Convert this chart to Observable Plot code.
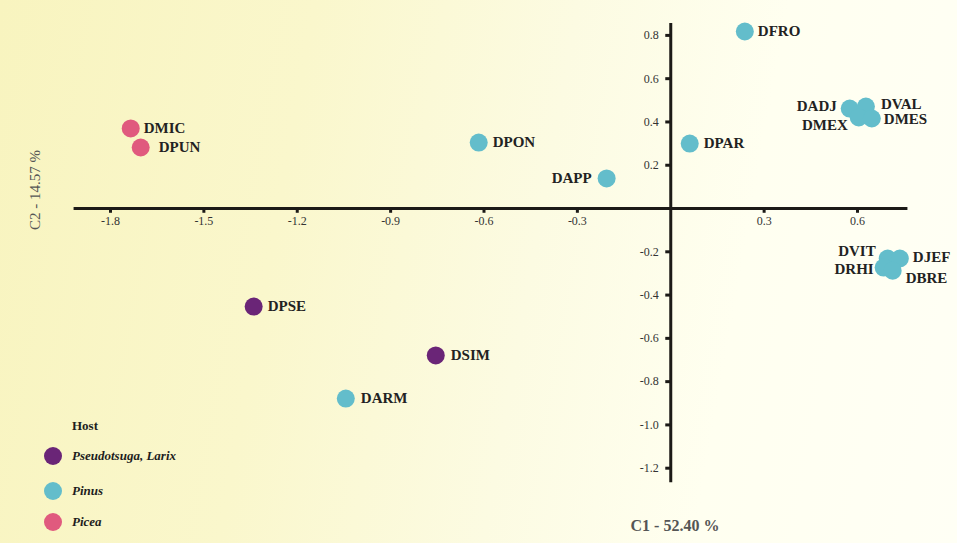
<!DOCTYPE html>
<html>
<head>
<meta charset="utf-8">
<script src="https://cdn.jsdelivr.net/npm/d3@7"></script>
<script src="https://cdn.jsdelivr.net/npm/@observablehq/plot@0.6"></script>
<style>
  html, body { margin: 0; padding: 0; }
  #wrap {
    position: relative; width: 957px; height: 543px; overflow: hidden;
    background: linear-gradient(100deg, #f8f4bf 0%, #faf7cc 30%, #fcfbe2 55%, #fffff0 75%, #fffff5 100%);
    font-family: "Liberation Serif", "Times New Roman", serif;
  }
  #chart { position: absolute; left: 0; top: 0; }
  .ttl { position: absolute; color: #555; white-space: nowrap; }
  #c1 { left: 675px; top: 526px; transform: translate(-50%, -50%); font-size: 16px; font-weight: bold; }
  #c2 { left: 35px; top: 190px; transform: translate(-50%, -50%) rotate(-90deg); font-size: 15px; }
  #legend { position: absolute; left: 0; top: 0; color: #1e1e1e; }
  #legend .head { position: absolute; left: 72px; top: 426px; transform: translateY(-50%); font-weight: bold; font-size: 13px; }
  #legend .item { position: absolute; left: 44px; transform: translateY(-50%); display: flex; align-items: center; white-space: nowrap; }
  #legend .sw { width: 18px; height: 18px; border-radius: 50%; margin-right: 10px; }
  #legend .lab { font-weight: bold; font-style: italic; font-size: 13px; }
</style>
</head>
<body>
<div id="wrap">
  <div id="chart"></div>
  <div class="ttl" id="c2">C2 - 14.57 %</div>
  <div class="ttl" id="c1">C1 - 52.40 %</div>
  <div id="legend"></div>
</div>
<script>
// ---- data ----
const codes = ["DFRO","DADJ","DVAL","DMEX","DMES","DVIT","DJEF","DRHI","DBRE","DMIC","DPUN","DPON","DPAR","DAPP","DPSE","DSIM","DARM"];
const c1 = [0.238, 0.575, 0.627, 0.604, 0.646, 0.697, 0.736, 0.684, 0.713, -1.735, -1.703, -0.617, 0.061, -0.206, -1.340, -0.755, -1.044];
const c2 = [0.818, 0.462, 0.471, 0.421, 0.416, -0.231, -0.231, -0.273, -0.287, 0.370, 0.282, 0.305, 0.300, 0.139, -0.453, -0.679, -0.878];
const hostOf = ["Pinus","Pinus","Pinus","Pinus","Pinus","Pinus","Pinus","Pinus","Pinus",
                "Picea","Picea","Pinus","Pinus","Pinus",
                "Pseudotsuga, Larix","Pseudotsuga, Larix","Pinus"];
const hosts = ["Pseudotsuga, Larix", "Pinus", "Picea"];
const xTicks = [-1.8, -1.5, -1.2, -0.9, -0.6, -0.3, 0.3, 0.6];
const yTicks = [0.8, 0.6, 0.4, 0.2, -0.2, -0.4, -0.6, -0.8, -1.0, -1.2];
const xAxisExtent = [-1.917, 0.762];
const yAxisExtent = [-1.267, 0.855];

// ---- styles ----
const hostColors = ["#6a2577", "#63bdcb", "#e05a7e"];
const ink = "#1c1a17";
const serif = "'Liberation Serif', 'Times New Roman', serif";
// label placement: [dx, dy, anchor]
const place = {
  DFRO: [13, 0, "start"], DADJ: [-13, -2, "end"], DVAL: [15, -2, "start"], DMEX: [-11, 8, "end"],
  DMES: [12, 1, "start"], DVIT: [-12, -7, "end"], DJEF: [13, -1, "start"], DRHI: [-10, 2, "end"],
  DBRE: [13, 8, "start"], DMIC: [13, 0, "start"], DPUN: [18, 0, "start"], DPON: [14, 0, "start"],
  DPAR: [14, 0, "start"], DAPP: [-15, 0, "end"], DPSE: [14, 0, "start"], DSIM: [15, 0, "start"],
  DARM: [15, 0, "start"]
};

const data = codes.map((code, i) => ({code, c1: c1[i], c2: c2[i], host: hostOf[i]}));

const labelMarks = data.map(d => {
  const [dx, dy, anchor] = place[d.code];
  return Plot.text([d], {x: "c1", y: "c2", text: "code", dx, dy, textAnchor: anchor,
    fontWeight: "bold", fontSize: 15, fontFamily: serif, fill: "#222"});
});

const chart = Plot.plot({
  width: 957,
  height: 543,
  margin: 0,
  x: {domain: [-1.8, 0.6], range: [110, 857], axis: null},
  y: {domain: [-1.2, 0.8], range: [467.7, 34.9], axis: null},
  color: {domain: hosts, range: hostColors},
  style: {background: "transparent", fontFamily: serif, overflow: "visible"},
  marks: [
    Plot.ruleY([0], {x1: xAxisExtent[0], x2: xAxisExtent[1], stroke: ink, strokeWidth: 3}),
    Plot.ruleX([0], {y1: yAxisExtent[0], y2: yAxisExtent[1], stroke: ink, strokeWidth: 3}),
    Plot.ruleX(xTicks, {x: d => d, y1: 0, y2: -0.022, stroke: ink, strokeWidth: 3}),
    Plot.ruleY(yTicks, {y: d => d, x1: 0, x2: -0.016, stroke: ink, strokeWidth: 3}),
    Plot.text(xTicks, {x: d => d, y: 0, dy: 13, text: d => d.toFixed(1), fontSize: 12, fontFamily: serif, fill: "#333"}),
    Plot.text(yTicks, {x: 0, y: d => d, dx: -12, textAnchor: "end", text: d => d.toFixed(1), fontSize: 12, fontFamily: serif, fill: "#333"}),
    Plot.dot(data, {x: "c1", y: "c2", r: 9, fill: "host", stroke: "none"}),
    ...labelMarks
  ]
});
document.getElementById("chart").appendChild(chart);

// legend
const legend = document.getElementById("legend");
const head = document.createElement("div");
head.className = "head";
head.textContent = "Host";
legend.appendChild(head);
const legendY = [456, 491, 522];
hosts.forEach((h, i) => {
  const item = document.createElement("div");
  item.className = "item";
  item.style.top = legendY[i] + "px";
  const sw = document.createElement("div");
  sw.className = "sw";
  sw.style.background = hostColors[i];
  const lab = document.createElement("span");
  lab.className = "lab";
  lab.textContent = h;
  item.appendChild(sw);
  item.appendChild(lab);
  legend.appendChild(item);
});
</script>
</body>
</html>
